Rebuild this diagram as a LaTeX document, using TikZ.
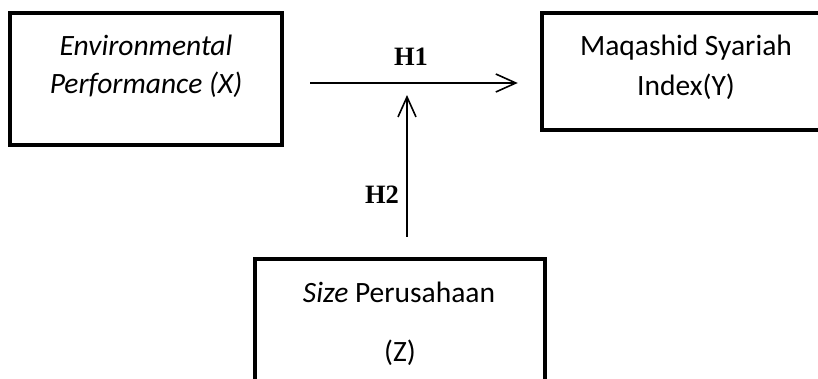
\documentclass[tikz,border=0pt]{standalone}
\usepackage{fontspec}
\setmainfont{Carlito}
\newfontfamily\tnr{Liberation Serif}
\usetikzlibrary{arrows.meta}
\begin{document}
\begin{tikzpicture}[x=1pt,y=-1pt,
  box/.style={draw, line width=4.5pt, rectangle, inner sep=0pt},
  txt/.style={font=\fontsize{29.5}{38}\selectfont, anchor=base, inner sep=0pt},
  hlab/.style={font=\tnr\bfseries\fontsize{26.5}{30}\selectfont, anchor=base, inner sep=0pt},
  conn/.style={line width=1.6pt, -{Straight Barb[length=20pt,width=18pt,line width=1.6pt]}}]
\useasboundingbox (0,0) rectangle (818,378);
\fill[white] (0,0) rectangle (818,378);
\clip (0,0) rectangle (818,378);
% boxes
\node[box, minimum width=272pt, minimum height=132pt] (bx) at (146,79) {};
\node[box, minimum width=298pt, minimum height=117pt] (by) at (691,71.5) {};
\node[box, minimum width=290pt, minimum height=141pt] (bz) at (400,329.5) {};
% texts
\node[txt] (tx1) at (146,55) {\itshape Environmental};
\node[txt] (tx2) at (146,93) {\itshape Performance (X)};
\node[txt] (ty1) at (686,55) {Maqashid Syariah};
\node[txt] (ty2) at (686,95) {Index(Y)};
\node[txt] (tz1) at (399,302) {\textit{Size} Perusahaan};
\node[txt] (tz2) at (400,361) {(Z)};
% labels
\node[hlab] (h1) at (411,65) {H1};
\node[hlab] (h2) at (382,203) {H2};
% connectors
\coordinate (h1y) at (0,83);
\coordinate (h2x) at (407,0);
\draw[conn, shorten <=26pt, shorten >=22pt] (bx.east |- h1y) -- (by.west |- h1y);
\draw[conn, shorten <=20pt, shorten >=12pt] (bz.north -| h2x) -- (h2x |- h1y);
\end{tikzpicture}
\end{document}
